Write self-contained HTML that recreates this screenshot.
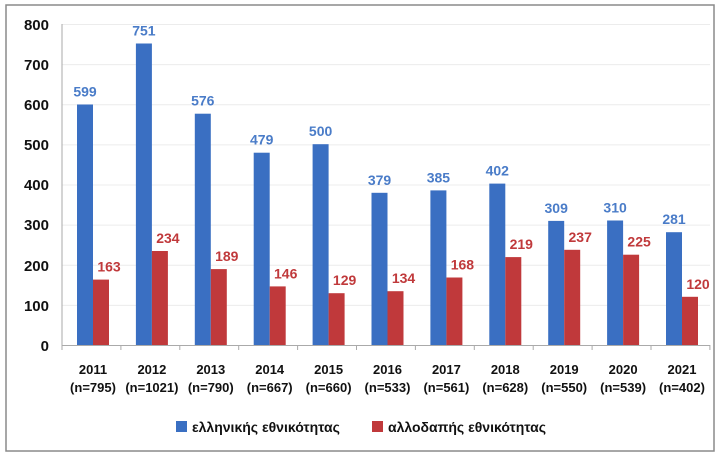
<!DOCTYPE html>
<html><head><meta charset="utf-8"><style>
body{margin:0;background:#fff;width:720px;height:459px;overflow:hidden}
svg{display:block}
text{font-family:"Liberation Sans","DejaVu Sans",sans-serif;font-weight:bold}
</style></head><body>
<svg width="720" height="459" viewBox="0 0 720 459">
<rect x="6" y="5" width="708" height="446" fill="#fff" stroke="#8a8a8a" stroke-width="1.5"/>
<g stroke="#ececec" stroke-width="1">
<line x1="62" x2="710" y1="24.5" y2="24.5"/><line x1="62" x2="710" y1="64.6" y2="64.6"/>
<line x1="62" x2="710" y1="104.7" y2="104.7"/><line x1="62" x2="710" y1="144.9" y2="144.9"/>
<line x1="62" x2="710" y1="185" y2="185"/><line x1="62" x2="710" y1="225.1" y2="225.1"/>
<line x1="62" x2="710" y1="265.2" y2="265.2"/><line x1="62" x2="710" y1="305.4" y2="305.4"/>
</g>
<g font-size="15" fill="#111" text-anchor="end">
<text x="49" y="30">800</text><text x="49" y="70">700</text><text x="49" y="110">600</text>
<text x="49" y="150">500</text><text x="49" y="190">400</text><text x="49" y="230">300</text>
<text x="49" y="271">200</text><text x="49" y="311">100</text><text x="49" y="351">0</text>
</g>
<g fill="#3a6fc2">
<rect x="77" y="104.5" width="16" height="240.5"/>
<rect x="135.9" y="43.5" width="16" height="301.5"/>
<rect x="194.8" y="113.7" width="16" height="231.3"/>
<rect x="253.7" y="152.7" width="16" height="192.3"/>
<rect x="312.6" y="144.2" width="16" height="200.8"/>
<rect x="371.5" y="192.8" width="16" height="152.2"/>
<rect x="430.4" y="190.4" width="16" height="154.6"/>
<rect x="489.3" y="183.6" width="16" height="161.4"/>
<rect x="548.2" y="220.9" width="16" height="124.1"/>
<rect x="607.1" y="220.5" width="16" height="124.5"/>
<rect x="666" y="232.2" width="16" height="112.8"/>
</g>
<g fill="#c0393b">
<rect x="93" y="279.6" width="16" height="65.4"/>
<rect x="151.9" y="251" width="16" height="94"/>
<rect x="210.8" y="269.1" width="16" height="75.9"/>
<rect x="269.7" y="286.4" width="16" height="58.6"/>
<rect x="328.6" y="293.2" width="16" height="51.8"/>
<rect x="387.5" y="291.2" width="16" height="53.8"/>
<rect x="446.4" y="277.5" width="16" height="67.5"/>
<rect x="505.3" y="257.1" width="16" height="87.9"/>
<rect x="564.2" y="249.8" width="16" height="95.2"/>
<rect x="623.1" y="254.7" width="16" height="90.3"/>
<rect x="682" y="296.8" width="16" height="48.2"/>
</g>
<g font-size="14" fill="#4a7cc8" text-anchor="middle">
<text x="85" y="96.5">599</text>
<text x="143.9" y="35.5">751</text>
<text x="202.8" y="105.7">576</text>
<text x="261.7" y="144.7">479</text>
<text x="320.6" y="136.2">500</text>
<text x="379.5" y="184.8">379</text>
<text x="438.4" y="182.4">385</text>
<text x="497.3" y="175.6">402</text>
<text x="556.2" y="212.9">309</text>
<text x="615.1" y="212.5">310</text>
<text x="674" y="224.2">281</text>
</g>
<g font-size="14" fill="#c0393b" text-anchor="middle">
<text x="109" y="271.6">163</text>
<text x="167.9" y="243">234</text>
<text x="226.8" y="261.1">189</text>
<text x="285.7" y="278.4">146</text>
<text x="344.6" y="285.2">129</text>
<text x="403.5" y="283.2">134</text>
<text x="462.4" y="269.5">168</text>
<text x="521.3" y="249.1">219</text>
<text x="580.2" y="241.8">237</text>
<text x="639.1" y="246.7">225</text>
<text x="698" y="288.8">120</text>
</g>
<g font-size="13" fill="#111" text-anchor="middle">
<text x="93" y="374">2011</text><text x="93" y="392">(n=795)</text>
<text x="151.9" y="374">2012</text><text x="151.9" y="392">(n=1021)</text>
<text x="210.8" y="374">2013</text><text x="210.8" y="392">(n=790)</text>
<text x="269.7" y="374">2014</text><text x="269.7" y="392">(n=667)</text>
<text x="328.6" y="374">2015</text><text x="328.6" y="392">(n=660)</text>
<text x="387.5" y="374">2016</text><text x="387.5" y="392">(n=533)</text>
<text x="446.4" y="374">2017</text><text x="446.4" y="392">(n=561)</text>
<text x="505.3" y="374">2018</text><text x="505.3" y="392">(n=628)</text>
<text x="564.2" y="374">2019</text><text x="564.2" y="392">(n=550)</text>
<text x="623.1" y="374">2020</text><text x="623.1" y="392">(n=539)</text>
<text x="682" y="374">2021</text><text x="682" y="392">(n=402)</text>
</g>
<line x1="62" y1="24" x2="62" y2="345" stroke="#aaa"/>
<line x1="62" y1="345.5" x2="710" y2="345.5" stroke="#aaa"/>
<g stroke="#aaa">
<line x1="62" x2="62" y1="345" y2="350"/><line x1="120.9" x2="120.9" y1="345" y2="350"/>
<line x1="179.8" x2="179.8" y1="345" y2="350"/><line x1="238.7" x2="238.7" y1="345" y2="350"/>
<line x1="297.6" x2="297.6" y1="345" y2="350"/><line x1="356.5" x2="356.5" y1="345" y2="350"/>
<line x1="415.4" x2="415.4" y1="345" y2="350"/><line x1="474.3" x2="474.3" y1="345" y2="350"/>
<line x1="533.2" x2="533.2" y1="345" y2="350"/><line x1="592.1" x2="592.1" y1="345" y2="350"/>
<line x1="651" x2="651" y1="345" y2="350"/><line x1="709.9" x2="709.9" y1="345" y2="350"/>
</g>
<g font-size="14">
<rect x="176" y="421" width="11" height="11" fill="#3a6fc2"/>
<text x="192" y="432" fill="#111">ελληνικής εθνικότητας</text>
<rect x="372" y="421" width="11" height="11" fill="#c0393b"/>
<text x="388" y="432" fill="#111">αλλοδαπής εθνικότητας</text>
</g>
</svg>
</body></html>
